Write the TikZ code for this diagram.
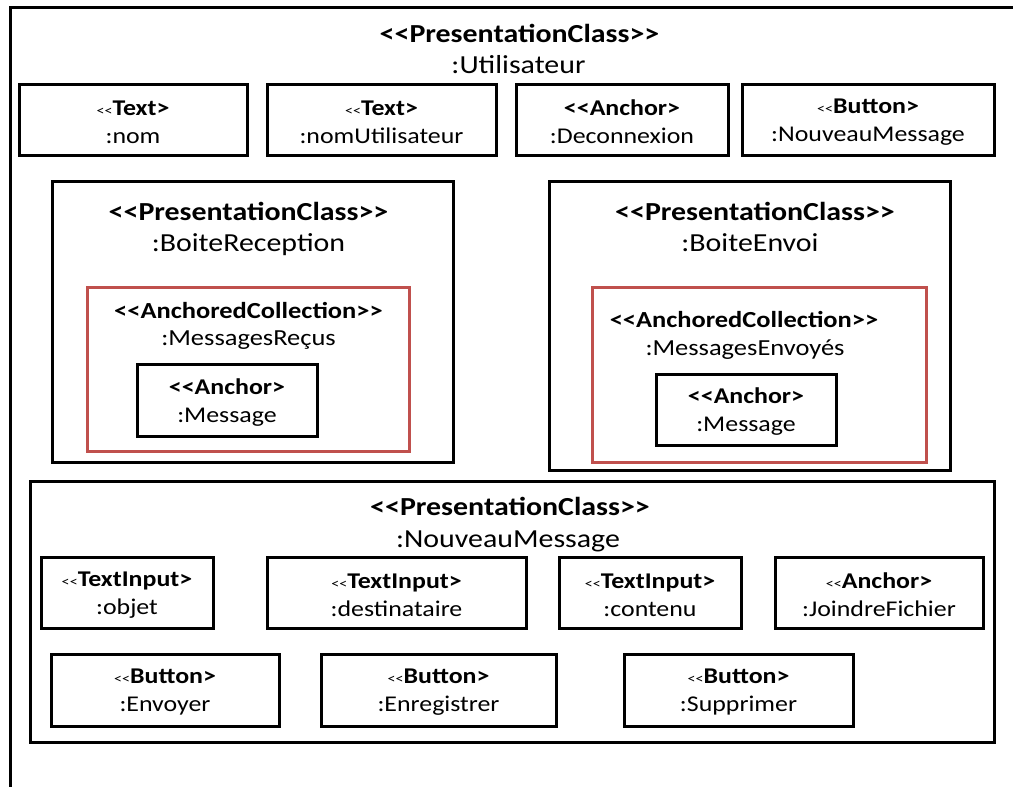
\documentclass[tikz,border=0pt]{standalone}
\usepackage{fontspec}
\setmainfont{Carlito}[FakeStretch=1.15]
\definecolor{redc}{RGB}{192,80,77}
\newcommand\LL{<\kern0pt<}
\newcommand\RR{>\kern0pt>}
\newcommand\smlt{{\fontsize{14}{28}\selectfont<\kern0pt<}}
\tikzset{
 box/.style={draw=black, line width=3pt, inner sep=0pt},
 boxtxt/.style={inner sep=0pt, align=center, font=\fontsize{22.5}{28}\selectfont, yshift=-2.5pt},
 container/.style={draw=black, line width=3pt, inner sep=0pt},
 redbox/.style={draw=redc, line width=3pt, inner sep=0pt},
 bigtxt/.style={inner sep=0pt, anchor=base, font=\fontsize{26}{31}\selectfont},
 midtxt/.style={inner sep=0pt, anchor=base, font=\fontsize{23}{28}\selectfont},
}
% #1 name, #2 centre, #3 width, #4 height, #5 stereotype line, #6 name line
\newcommand\ubox[6]{%
  \node[box, minimum width=#3, minimum height=#4] (#1) at (#2) {};
  \node[boxtxt] (#1t) at (#1.center) {#5\\#6};}
\begin{document}
\begin{tikzpicture}[x=1pt,y=-1pt]
\useasboundingbox (0,0) rectangle (1013,787);
\draw[line width=3pt] (10,787) -- (10,7.5) -- (1013,7.5);
% outer title
\node[bigtxt] (t1) at (519.5,42) {\textbf{\LL PresentationClass\RR}};
\node[bigtxt] (t2) at (518.5,73) {:Utilisateur};
% top row
\ubox{nom}{133,119.5}{228}{71}{\smlt\textbf{Text>}}{:nom}
\ubox{nomu}{381.5,119.5}{229}{71}{\smlt\textbf{Text>}}{:nomUtilisateur}
\ubox{decon}{622,119.5}{212}{71}{\textbf{\LL Anchor>}}{:Deconnexion}
\ubox{nmbtn}{868,119.5}{252}{71}{\smlt\textbf{Button>}}{:NouveauMessage}
% BoiteReception
\node[container, minimum width=401, minimum height=281] (br) at (252.5,321.5) {};
\node[bigtxt] (brt1) at (248.5,220) {\textbf{\LL PresentationClass\RR}};
\node[bigtxt] (brt2) at (248.5,251) {:BoiteReception};
\node[redbox, minimum width=322, minimum height=164] (mr) at (248,369) {};
\node[midtxt] (mrt1) at (248.5,318) {\textbf{\LL AnchoredCollection\RR}};
\node[midtxt] (mrt2) at (248.5,345) {:MessagesReçus};
\ubox{amr}{227,400}{180}{72}{\textbf{\LL Anchor>}}{:Message}
% BoiteEnvoi
\node[container, minimum width=401, minimum height=289] (be) at (749.5,325.5) {};
\node[bigtxt] (bet1) at (755,220) {\textbf{\LL PresentationClass\RR}};
\node[bigtxt] (bet2) at (750,251) {:BoiteEnvoi};
\node[redbox, minimum width=334, minimum height=175] (me) at (759,374.5) {};
\node[midtxt] (met1) at (744,327) {\textbf{\LL AnchoredCollection\RR}};
\node[midtxt] (met2) at (745,355) {:MessagesEnvoyés};
\ubox{ame}{746,409.5}{180}{71}{\textbf{\LL Anchor>}}{:Message}
% NouveauMessage
\node[container, minimum width=964, minimum height=261] (nm) at (512,611.5) {};
\node[bigtxt] (nmt1) at (510,515) {\textbf{\LL PresentationClass\RR}};
\node[bigtxt] (nmt2) at (508,547) {:NouveauMessage};
\ubox{objet}{127,592.5}{172}{71}{\smlt\textbf{TextInput>}}{:objet}
\ubox{dest}{396.5,592.5}{259}{71}{\smlt\textbf{TextInput>}}{:destinataire}
\ubox{cont}{650,592.5}{182}{71}{\smlt\textbf{TextInput>}}{:contenu}
\ubox{joind}{879,592.5}{208}{71}{\smlt\textbf{Anchor>}}{:JoindreFichier}
\ubox{env}{165,690}{228}{72}{\smlt\textbf{Button>}}{:Envoyer}
\ubox{enr}{438.5,690}{235}{72}{\smlt\textbf{Button>}}{:Enregistrer}
\ubox{sup}{738.5,690}{229}{72}{\smlt\textbf{Button>}}{:Supprimer}
\end{tikzpicture}
\end{document}
